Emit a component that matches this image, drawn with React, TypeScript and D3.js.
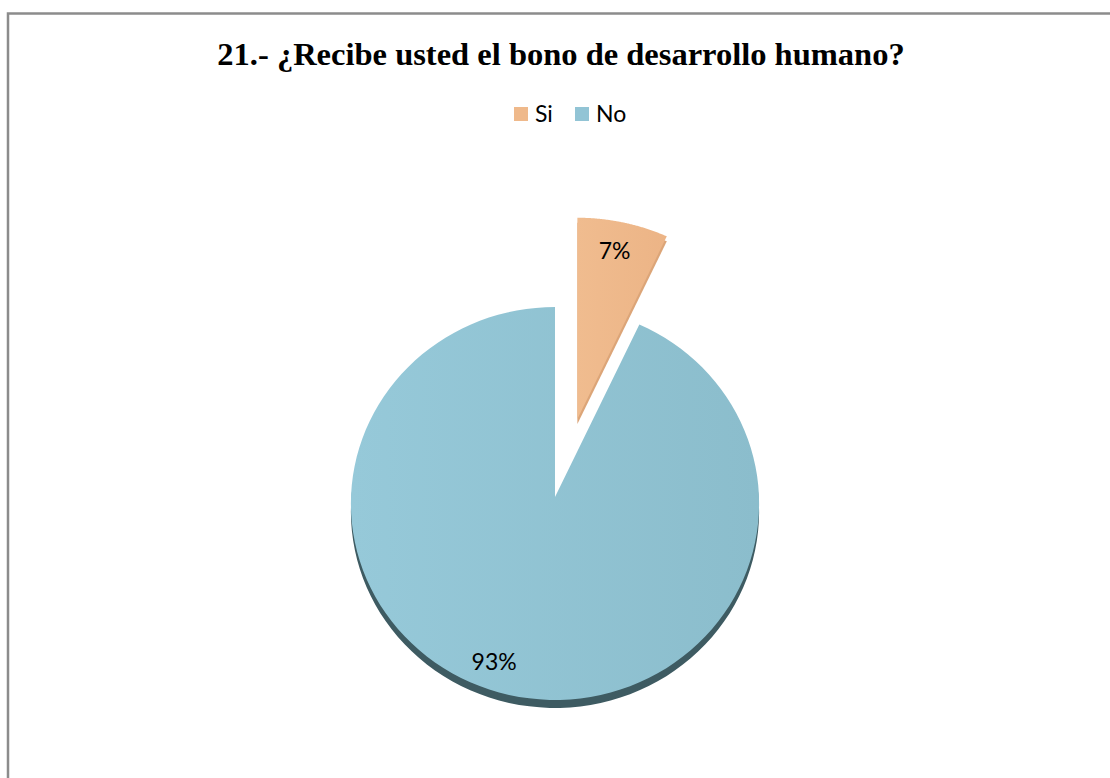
import React from "react";
import * as d3 from "d3";

const title = "21.- ¿Recibe usted el bono de desarrollo humano?";
const categories = ["Si", "No"];
const values = [7, 93];
const valueLabels = ["7%", "93%"];
const colors = ["#efb98b", "#92c4d5"];
const sideColors = ["#dca578", "#3e5b62"];
const exploded = [true, false];

const W = 1110;
const H = 778;
const CX = 555;
const CY = 497;
const R = 204;
const A = 0.962; // vertical tilt
const K = 0.033; // perspective
const EXPLODE = 84;
const EXPLODE_SCALE = 1.06;
const EXPLODE_ANGLE_SHIFT = 0.05;

function project(r: number, theta: number, ox: number, oy: number, rad: number): [number, number] {
  const pu = r * Math.sin(theta);
  const pv = -r * Math.cos(theta);
  const w = 1 / (1 - K * pv);
  return [ox + rad * pu * w, oy + rad * A * pv * w];
}

export default function App() {
  const pie = d3.pie<number>().sort(null).value((d) => d)(values);
  const line = d3.line<[number, number]>().curve(d3.curveLinear);

  const slices = pie.map((p, i) => {
    const mid = (p.startAngle + p.endAngle) / 2;
    const ea = mid + EXPLODE_ANGLE_SHIFT;
    const ox = exploded[i] ? CX + EXPLODE * Math.sin(ea) : CX;
    const oy = exploded[i] ? CY - EXPLODE * Math.cos(ea) * A : CY;
    const rad = exploded[i] ? R * EXPLODE_SCALE : R;
    const n = 120;
    const pts: [number, number][] = [project(0, 0, ox, oy, rad)];
    for (let j = 0; j <= n; j++) {
      const t = p.startAngle + ((p.endAngle - p.startAngle) * j) / n;
      pts.push(project(1, t, ox, oy, rad));
    }
    const d = line(pts) + "Z";
    const labelAngle = exploded[i] ? mid - 0.01 : mid + 0.12;
    const labelR = exploded[i] ? 0.85 : 0.87;
    const [lx, ly] = project(labelR, labelAngle, ox, oy, rad);
    return { d, i, lx, ly };
  });

  return (
    <div style={{ position: "absolute", left: 0, top: 0, width: W, height: H, background: "#fff" }}>
      <svg width={W} height={H} style={{ display: "block" }}>
        <defs>
          <linearGradient id="gNo" x1="0" x2="1" y1="0" y2="0">
            <stop offset="0" stopColor="#96c9d9" />
            <stop offset="1" stopColor="#8bbdcc" />
          </linearGradient>
          <linearGradient id="gSi" x1="0" x2="1" y1="0" y2="0">
            <stop offset="0" stopColor="#f0bc8f" />
            <stop offset="1" stopColor="#ecb486" />
          </linearGradient>
        </defs>
        <rect x={0} y={0} width={W} height={H} fill="#fff" />
        <path d={`M8,${H + 5} L8,13.5 L${W + 5},13.5`} fill="none" stroke="#8c8c8c" strokeWidth={2.5} />
        <text
          x={CX + 6}
          y={65}
          textAnchor="middle"
          fontFamily="'Liberation Serif', 'Times New Roman', serif"
          fontWeight="bold"
          fontSize={32.5}
          fill="#000"
        >
          {title}
        </text>
        {/* legend */}
        {categories.map((c, i) => {
          const x0 = i === 0 ? 514 : 575;
          return (
            <g key={c}>
              <rect x={x0} y={107} width={14} height={14} fill={colors[i]} />
              <text x={x0 + 21} y={122} fontFamily="Lato, 'Open Sans', sans-serif" fontSize={23} fill="#000">
                {c}
              </text>
            </g>
          );
        })}
        {/* sides (depth) */}
        {slices.map((s) => (
          <path key={"side" + s.i} d={s.d} fill={sideColors[s.i]} transform={`translate(0,${exploded[s.i] ? 5 : 8})`} />
        ))}
        {/* faces */}
        {slices.map((s) => (
          <path key={"face" + s.i} d={s.d} fill={s.i === 0 ? "url(#gSi)" : "url(#gNo)"} />
        ))}
        {slices.map((s) => (
          <text
            key={"lab" + s.i}
            x={s.lx}
            y={s.ly}
            dy="0.35em"
            textAnchor="middle"
            fontFamily="Lato, 'Open Sans', sans-serif"
            fontSize={23}
            fill="#000"
          >
            {valueLabels[s.i]}
          </text>
        ))}
      </svg>
    </div>
  );
}
